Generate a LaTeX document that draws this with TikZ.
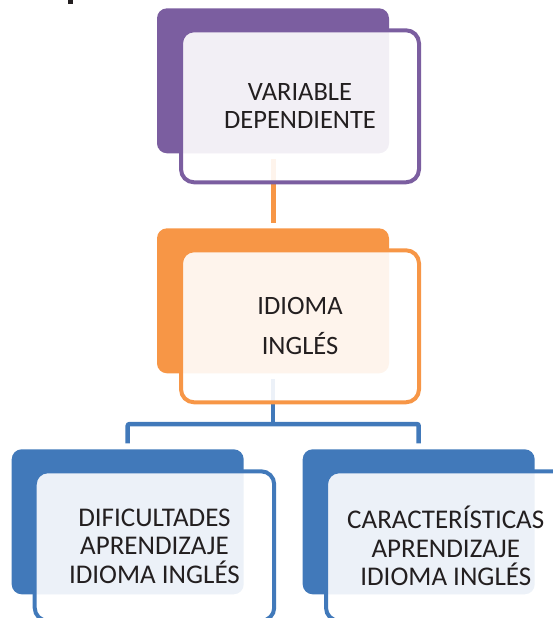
\documentclass[tikz,border=0pt]{standalone}
\usepackage{fontspec}
\setmainfont{Carlito}
\usepackage{xcolor}
\usetikzlibrary{positioning}
\usetikzlibrary{backgrounds}

\definecolor{lila}{HTML}{7B5EA0}
\definecolor{naranja}{HTML}{F79646}
\definecolor{azul}{HTML}{4179BA}
\definecolor{texto}{HTML}{231F20}

\begin{document}
\begin{tikzpicture}[x=1pt, y=-1pt,
	fondo/.style={rectangle, rounded corners=10pt, minimum width=232pt, minimum height=145pt, inner sep=0pt, outer sep=0pt, anchor=north west},
	marco/.style={rectangle, rounded corners=13pt, line width=4pt, fill=white, fill opacity=0.9, text opacity=1, minimum width=238pt, minimum height=152pt, inner sep=0pt, outer sep=0pt, text=texto, align=center},
	enlace/.style={line width=5pt}]
	\useasboundingbox (0,0) rectangle (553,618);
	\clip (0,0) rectangle (553,618);
	%
	\fill[texto] (67.7,0) rectangle (72.5,4.3); % cut-off letter
	%
	% boxes
	\node[fondo, fill=lila] (varfondo) at (157,8.3) {};
	\node[marco, draw=lila, below right=22pt and 24pt of varfondo.north west, font=\fontsize{26.5}{28}\selectfont] (varmarco) {VARIABLE\\DEPENDIENTE};
	%
	\node[fondo, fill=naranja] (idfondo) at (157,228.3) {};
	\node[marco, draw=naranja, below right=22pt and 24pt of idfondo.north west, font=\fontsize{26.5}{40}\selectfont] (idmarco) {IDIOMA\\INGLÉS};
	%
	\node[fondo, fill=azul] (diffondo) at (11.7,449.3) {};
	\node[marco, draw=azul, minimum width=239.5pt, minimum height=149.5pt, below right=22pt and 23pt of diffondo.north west, font=\fontsize{27}{28.7}\selectfont] (difmarco) {DIFICULTADES\\APRENDIZAJE\\IDIOMA INGLÉS};
	%
	\node[fondo, fill=azul] (carfondo) at (302.7,449.3) {};
	\node[marco, draw=azul, minimum width=239.5pt, minimum height=149.5pt, below right=22pt and 23.3pt of carfondo.north west, font=\fontsize{27}{28.7}\selectfont] (carmarco) {CARACTERÍSTICAS\\APRENDIZAJE\\IDIOMA INGLÉS};
	%
	% connectors
	\begin{scope}[on background layer]
		\draw[enlace, naranja, shorten <=6pt, shorten >=5pt] (varfondo.south) -- (idfondo.north);
		%
		\coordinate (rama) at (273,424);
		\draw[enlace, azul, line width=4.5pt, shorten <=6pt] (idfondo.south) -- (rama);
		\draw[enlace, azul, line width=4.5pt, rounded corners=2pt] ([yshift=6pt]diffondo.north) |- (rama) -| ([yshift=6pt]carfondo.north);
	\end{scope}
\end{tikzpicture}
\end{document}
